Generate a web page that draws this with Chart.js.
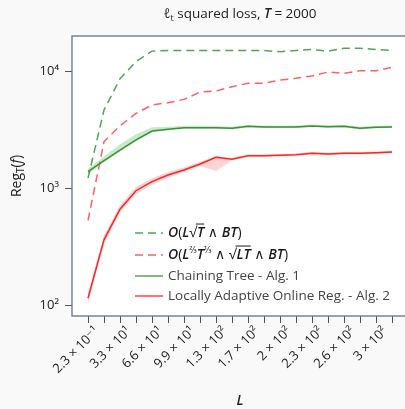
<!DOCTYPE html>
<html>
<head>
<meta charset="utf-8">
<script src="https://cdn.jsdelivr.net/npm/chart.js@4/dist/chart.umd.min.js"></script>
<style>
    html, body { margin: 0; padding: 0; background: #f9f9f9; overflow: hidden; }
    #wrap { width: 410px; height: 409px; position: relative; }
</style>
</head>
<body>
<div id="wrap"><canvas id="myChart"></canvas></div>
<script>
// L values (x categories), only every other one gets a label on the axis
var categories = ['2.3 × 10⁻¹', '1.7 × 10¹', '3.3 × 10¹', '5 × 10¹', '6.6 × 10¹', '8.3 × 10¹', '9.9 × 10¹', '1.2 × 10²', '1.3 × 10²', '1.5 × 10²',
                  '1.7 × 10²', '1.8 × 10²', '2 × 10²', '2.2 × 10²', '2.3 × 10²', '2.5 × 10²', '2.6 × 10²', '2.8 × 10²', '3 × 10²', '3.1 × 10²'];
var yTicks = [100, 1000, 10000];

var boundTree = [1230, 4710, 8700, 12200, 15000, 15200, 15200, 15200, 15200, 15200, 15200, 15200, 14800, 15200, 15500, 15000, 15850, 15850, 15500, 15200];
var boundAdaptive = [535, 2520, 3450, 4400, 5200, 5430, 5800, 6700, 6840, 7450, 7960, 7960, 8490, 8780, 9190, 9940, 9680, 10200, 10200, 10900];

var tree = [1400, 1740, 2140, 2610, 3110, 3220, 3320, 3320, 3320, 3280, 3410, 3370, 3370, 3370, 3440, 3390, 3410, 3280, 3350, 3370];
var treeHigh = [1480, 1880, 2400, 2920, 3360, 3380, 3450, 3450, 3440, 3380, 3510, 3470, 3460, 3470, 3540, 3490, 3510, 3380, 3450, 3470];
var treeLow = [1330, 1680, 2080, 2530, 3030, 3160, 3260, 3260, 3250, 3210, 3340, 3300, 3300, 3300, 3370, 3320, 3340, 3210, 3280, 3300];

var adaptive = [116, 365, 667, 961, 1148, 1310, 1445, 1625, 1853, 1782, 1915, 1915, 1930, 1955, 2010, 1980, 2010, 2010, 2030, 2060];
var adaptiveHigh = [128, 400, 720, 1040, 1230, 1390, 1520, 1700, 1900, 1830, 1960, 1960, 1975, 2000, 2060, 2030, 2060, 2060, 2080, 2110];
var adaptiveLow = [104, 335, 625, 900, 1080, 1240, 1390, 1560, 1420, 1740, 1870, 1870, 1885, 1910, 1960, 1935, 1960, 1960, 1980, 2010];

var FONT = '"Open Sans", "DejaVu Sans", sans-serif';
var green = 'rgb(50,150,50)';
var red = 'rgb(255,35,35)';

function pts(arr) {
    return arr.map(function(v, i) { return { x: i, y: v }; });
}

function fontFor(p, size) {
    var s = (p.sub || p.sup) ? Math.round(size * (p.sup ? 0.62 : 0.7)) : size;
    return (p.i ? 'italic ' : '') + (p.b ? '600 ' : '') + s + 'px ' + FONT;
}

// draws a line of text made of styled pieces (italic, sub/superscript, overline)
function drawRich(ctx, parts, x, y, size, align, color) {
    var w = 0;
    parts.forEach(function(p) {
        ctx.font = fontFor(p, size);
        p.w = ctx.measureText(p.t).width;
        w += p.w;
    });
    var cx = align === 'center' ? x - w / 2 : x;
    ctx.fillStyle = color;
    ctx.strokeStyle = color;
    ctx.textAlign = 'left';
    ctx.textBaseline = 'middle';
    parts.forEach(function(p) {
        ctx.font = fontFor(p, size);
        var dy = p.sub ? size * 0.32 : (p.sup ? -size * 0.36 : 0);
        ctx.fillText(p.t, cx, y + dy);
        if (p.over) {
            ctx.lineWidth = 1;
            ctx.beginPath();
            ctx.moveTo(cx - 1, y - size * 0.64);
            ctx.lineTo(cx + p.w, y - size * 0.64);
            ctx.stroke();
        }
        cx += p.w;
    });
}

var legendItems = [
    { color: green, dash: [8, 5], alpha: 0.85, parts: [{t: 'O', i: 1, b: 1}, {t: '('}, {t: 'L', i: 1, b: 1}, {t: '√'}, {t: 'T', i: 1, b: 1, over: 1}, {t: ' ∧ '}, {t: 'BT', i: 1, b: 1}, {t: ')'}], math: true },
    { color: 'rgb(255,70,70)', dash: [8, 5], alpha: 0.85, parts: [{t: 'O', i: 1, b: 1}, {t: '('}, {t: 'L', i: 1, b: 1}, {t: '2⁄3', sup: 1}, {t: 'T', i: 1, b: 1}, {t: '1⁄3', sup: 1}, {t: ' ∧ '}, {t: '√'}, {t: 'LT', i: 1, b: 1, over: 1}, {t: ' ∧ '}, {t: 'BT', i: 1, b: 1}, {t: ')'}], math: true },
    { color: green, dash: [], alpha: 0.85, parts: [{t: 'Chaining Tree - Alg. 1'}] },
    { color: red, dash: [], alpha: 0.85, parts: [{t: 'Locally Adaptive Online Reg. - Alg. 2'}] }
];
var legendRows = [233, 255, 276, 296];

var decorPlugin = {
    id: 'decor',
    beforeDraw: function(chart) {
        var c = chart.ctx, a = chart.chartArea;
        c.save();
        c.fillStyle = '#ffffff';
        c.fillRect(a.left, a.top, a.right - a.left, a.bottom - a.top);
        c.restore();
    },
    afterDraw: function(chart) {
        var c = chart.ctx, a = chart.chartArea;
        var mid = (a.left + a.right) / 2;
        c.save();
        // frame
        c.strokeStyle = '#56657a';
        c.lineWidth = 1.2;
        c.strokeRect(a.left, a.top, a.right - a.left, a.bottom - a.top);
        // title
        drawRich(c, [{t: 'ℓ', i: 1}, {t: 't', sub: 1}, {t: ' squared loss, '}, {t: 'T', i: 1, b: 1}, {t: ' = 2000'}], mid, 14, 13.5, 'center', '#222');
        // x title
        drawRich(c, [{t: 'L', i: 1, b: 1}], mid, 401, 14, 'center', '#222');
        // y title
        c.translate(17, (a.top + a.bottom) / 2);
        c.rotate(-Math.PI / 2);
        drawRich(c, [{t: 'Reg'}, {t: 'T', sub: 1}, {t: '('}, {t: 'f', i: 1}, {t: ')'}], 0, 0, 14, 'center', '#222');
        c.restore();
        // legend
        c.save();
        legendItems.forEach(function(item, k) {
            var y = legendRows[k];
            c.globalAlpha = item.alpha;
            c.strokeStyle = item.color;
            c.lineWidth = 1.5;
            c.setLineDash(item.dash);
            c.beginPath();
            c.moveTo(135, y);
            c.lineTo(163, y);
            c.stroke();
            c.setLineDash([]);
            c.globalAlpha = 1;
            drawRich(c, item.parts, 168, y, item.math ? 14 : 13.5, 'left', item.math ? '#1a1a1a' : '#444');
        });
        c.restore();
    }
};

var ctx = document.getElementById('myChart').getContext('2d');
var myChart = new Chart(ctx, {
    type: 'line',
    data: {
        datasets: [
            { label: 'tree high', data: pts(treeHigh), borderWidth: 0, pointRadius: 0, fill: false, order: 5 },
            { label: 'tree low', data: pts(treeLow), borderWidth: 0, pointRadius: 0, fill: '-1', backgroundColor: 'rgba(50,160,50,0.25)', order: 5 },
            { label: 'adaptive high', data: pts(adaptiveHigh), borderWidth: 0, pointRadius: 0, fill: false, order: 5 },
            { label: 'adaptive low', data: pts(adaptiveLow), borderWidth: 0, pointRadius: 0, fill: '-1', backgroundColor: 'rgba(255,60,60,0.22)', order: 5 },
            { label: 'O(L√T ∧ BT)', data: pts(boundTree), borderColor: 'rgba(50,150,50,0.85)', borderDash: [8, 5], borderWidth: 1.5, pointRadius: 0, fill: false, order: 2 },
            { label: 'O(L^2/3 T^1/3 ∧ √LT ∧ BT)', data: pts(boundAdaptive), borderColor: 'rgba(255,70,70,0.85)', borderDash: [8, 5], borderWidth: 1.5, pointRadius: 0, fill: false, order: 2 },
            { label: 'Chaining Tree - Alg. 1', data: pts(tree), borderColor: green, borderWidth: 1.5, pointRadius: 0, fill: false, order: 1 },
            { label: 'Locally Adaptive Online Reg. - Alg. 2', data: pts(adaptive), borderColor: red, borderWidth: 1.5, pointRadius: 0, fill: false, order: 1 }
        ]
    },
    options: {
        responsive: true,
        maintainAspectRatio: false,
        animation: false,
        layout: { padding: { top: 36, right: 2, left: 0, bottom: 0 } },
        elements: { line: { tension: 0 } },
        plugins: { legend: { display: false }, tooltip: { enabled: false } },
        scales: {
            x: {
                type: 'linear',
                min: -1,
                max: 20,
                afterBuildTicks: function(scale) {
                    scale.ticks = categories.map(function(c, i) { return { value: i }; });
                },
                afterFit: function(scale) { scale.height = 93; },
                ticks: {
                    autoSkip: false,
                    minRotation: 45,
                    maxRotation: 45,
                    padding: 1,
                    labelOffset: 9,
                    color: '#222',
                    font: { family: FONT, size: 13 },
                    callback: function(v) { return v % 2 === 0 ? categories[v] : ''; }
                },
                grid: { drawOnChartArea: false, tickLength: 7, color: '#555', tickWidth: 1 },
                border: { display: false }
            },
            y: {
                type: 'logarithmic',
                min: 81.6,
                max: 20200,
                afterBuildTicks: function(scale) {
                    scale.ticks = yTicks.map(function(v) { return { value: v }; });
                },
                afterFit: function(scale) { scale.width = 72; },
                ticks: {
                    padding: 6,
                    color: '#222',
                    font: { family: FONT, size: 13 },
                    callback: function(v) { return { 100: '10²', 1000: '10³', 10000: '10⁴' }[v]; }
                },
                grid: { drawOnChartArea: false, tickLength: 7, color: '#555', tickWidth: 1 },
                border: { display: false }
            }
        }
    },
    plugins: [decorPlugin]
});
</script>
</body>
</html>
